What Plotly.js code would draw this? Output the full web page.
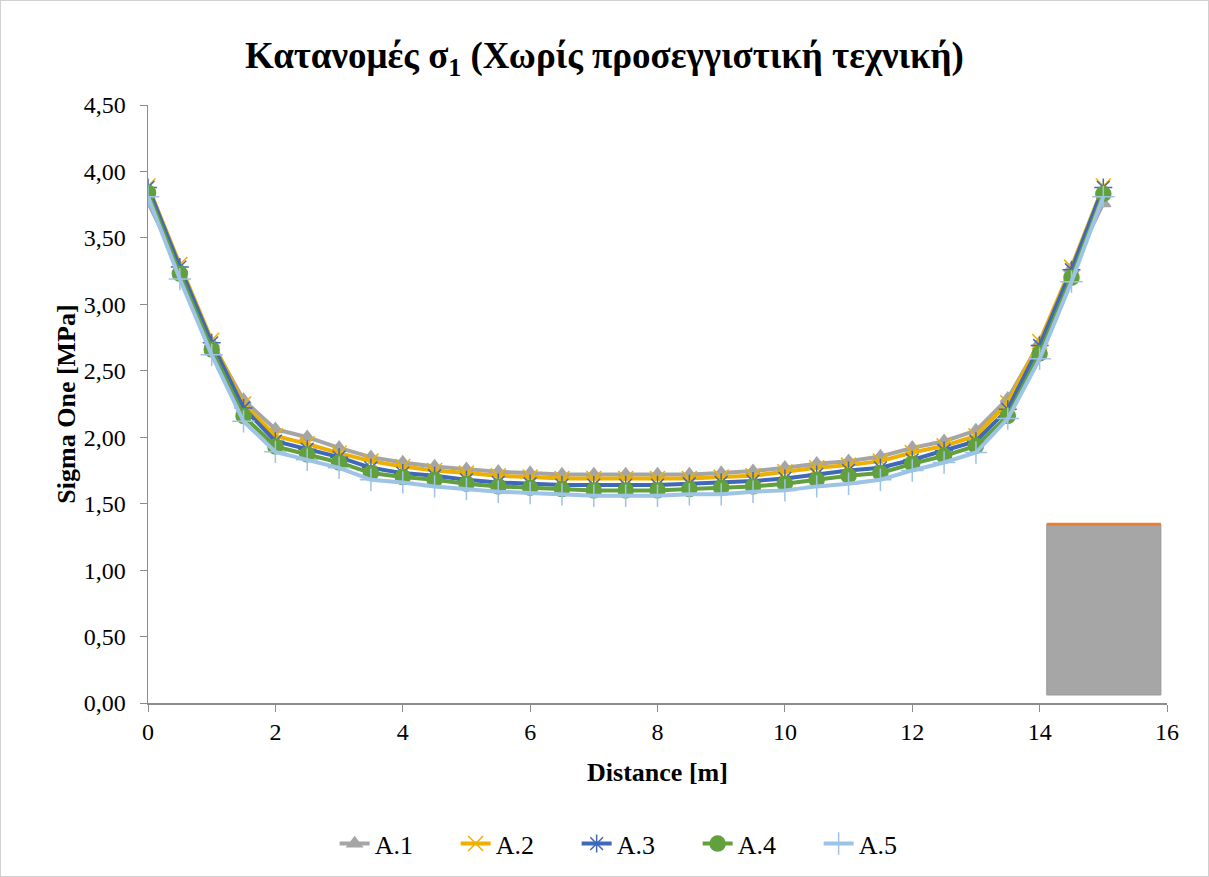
<!DOCTYPE html>
<html>
<head>
<meta charset="utf-8">
<script src="https://cdn.plot.ly/plotly-3.0.1.min.js"></script>
<style>
html,body{margin:0;padding:0;background:#fff;}
#wrap{position:relative;width:1209px;height:877px;}
#chart{width:1209px;height:877px;}
#frame{position:absolute;left:0;top:0;width:1207px;height:875px;border:1px solid #d0d0d0;pointer-events:none;}
</style>
</head>
<body>
<div id="wrap"><div id="chart"></div><div id="frame"></div></div>
<script>
const distance = [0,0.5,1,1.5,2,2.5,3,3.5,4,4.5,5,5.5,6,6.5,7,7.5,8,8.5,9,9.5,10,10.5,11,11.5,12,12.5,13,13.5,14,14.5,15];
const A1 = [3.77,3.27,2.71,2.28,2.06,2.00,1.92,1.85,1.81,1.78,1.76,1.74,1.73,1.72,1.72,1.72,1.72,1.72,1.73,1.745,1.77,1.80,1.82,1.855,1.92,1.97,2.05,2.29,2.71,3.27,3.76];
const A2 = [3.89,3.30,2.73,2.25,2.01,1.95,1.88,1.82,1.78,1.75,1.73,1.71,1.70,1.69,1.69,1.69,1.69,1.69,1.70,1.71,1.74,1.77,1.79,1.82,1.885,1.935,2.01,2.26,2.72,3.28,3.89];
const A3 = [3.88,3.28,2.71,2.22,1.97,1.91,1.85,1.77,1.73,1.71,1.68,1.66,1.65,1.64,1.64,1.64,1.64,1.65,1.66,1.67,1.69,1.72,1.75,1.77,1.83,1.90,1.97,2.21,2.69,3.26,3.88];
const A4 = [3.84,3.23,2.66,2.16,1.93,1.87,1.81,1.73,1.70,1.68,1.65,1.63,1.62,1.61,1.60,1.60,1.60,1.61,1.62,1.63,1.65,1.68,1.71,1.73,1.80,1.86,1.935,2.16,2.63,3.20,3.83];
const A5 = [3.81,3.19,2.62,2.12,1.89,1.83,1.77,1.68,1.66,1.63,1.61,1.59,1.58,1.57,1.56,1.56,1.56,1.57,1.57,1.59,1.60,1.63,1.65,1.68,1.75,1.81,1.885,2.14,2.59,3.17,3.81];
const seriesNames = ["A.1","A.2","A.3","A.4","A.5"];
const seriesData = [A1,A2,A3,A4,A5];
const colors = ["#A5A5A5","#EDB000","#4068B8","#62A03E","#9DC3E6"];
const symbols = ["triangle-up","x-thin-open","asterisk-open","circle","cross-thin-open"];
const sizes = [13,15,15,15,16];

const FONT = "Liberation Serif, Times New Roman, serif";
const traces = seriesNames.map((n,i)=>({
  type:"scatter", mode:"lines+markers", name:n,
  x: distance, y: seriesData[i],
  line:{color:colors[i], width:4},
  marker:{symbol:symbols[i], size:sizes[i], color:colors[i], line:{color:colors[i], width:1.5}}
}));

const layout = {
  width:1209, height:877,
  paper_bgcolor:"#fff", plot_bgcolor:"#fff",
  margin:{l:148, r:42, t:105, b:174},
  separators:",.",
  font:{family:FONT, size:24, color:"#000"},
  title:{text:"<b>Κατανομές σ<sub>1</sub> (Χωρίς προσεγγιστική τεχνική)</b>", font:{family:FONT, size:37, color:"#000"}, x:0.5, xref:"container", xanchor:"center", y:0.937, yanchor:"middle"},
  xaxis:{range:[0,16], dtick:2, tick0:0, showgrid:false, zeroline:false, showline:true, linecolor:"#8c8c8c", linewidth:1.5,
    ticks:"outside", ticklen:7, tickcolor:"#8c8c8c", tickfont:{family:FONT,size:24},
    title:{text:"<b>Distance [m]</b>", font:{family:FONT,size:26}, standoff:18}},
  yaxis:{range:[0,4.5], dtick:0.5, tick0:0, tickformat:".2f", showgrid:false, zeroline:false, showline:true, linecolor:"#8c8c8c", linewidth:1.5,
    ticks:"outside", ticklen:7, tickcolor:"#8c8c8c", tickfont:{family:FONT,size:24}, ticklabelstandoff:9,
    title:{text:"<b>Sigma One [MPa]</b>", font:{family:FONT,size:26}, standoff:0}},
  legend:{orientation:"h", xref:"container", x:0.527, xanchor:"center", yref:"container", y:0.038, yanchor:"middle", font:{family:FONT,size:26}, entrywidth:76, entrywidthmode:"pixels", tracegroupgap:0},
  showlegend:true,
  shapes:[
    {type:"rect", xref:"paper", yref:"paper", x0:0.882, x1:0.994, y0:0.0134, y1:0.299, fillcolor:"#A6A6A6", line:{color:"#999999", width:1}, layer:"below"},
    {type:"line", xref:"paper", yref:"paper", x0:0.882, x1:0.994, y0:0.299, y1:0.299, line:{color:"#ED7D31", width:3}}
  ]
};
Plotly.newPlot("chart", traces, layout, {displayModeBar:false, staticPlot:true});
</script>
</body>
</html>
